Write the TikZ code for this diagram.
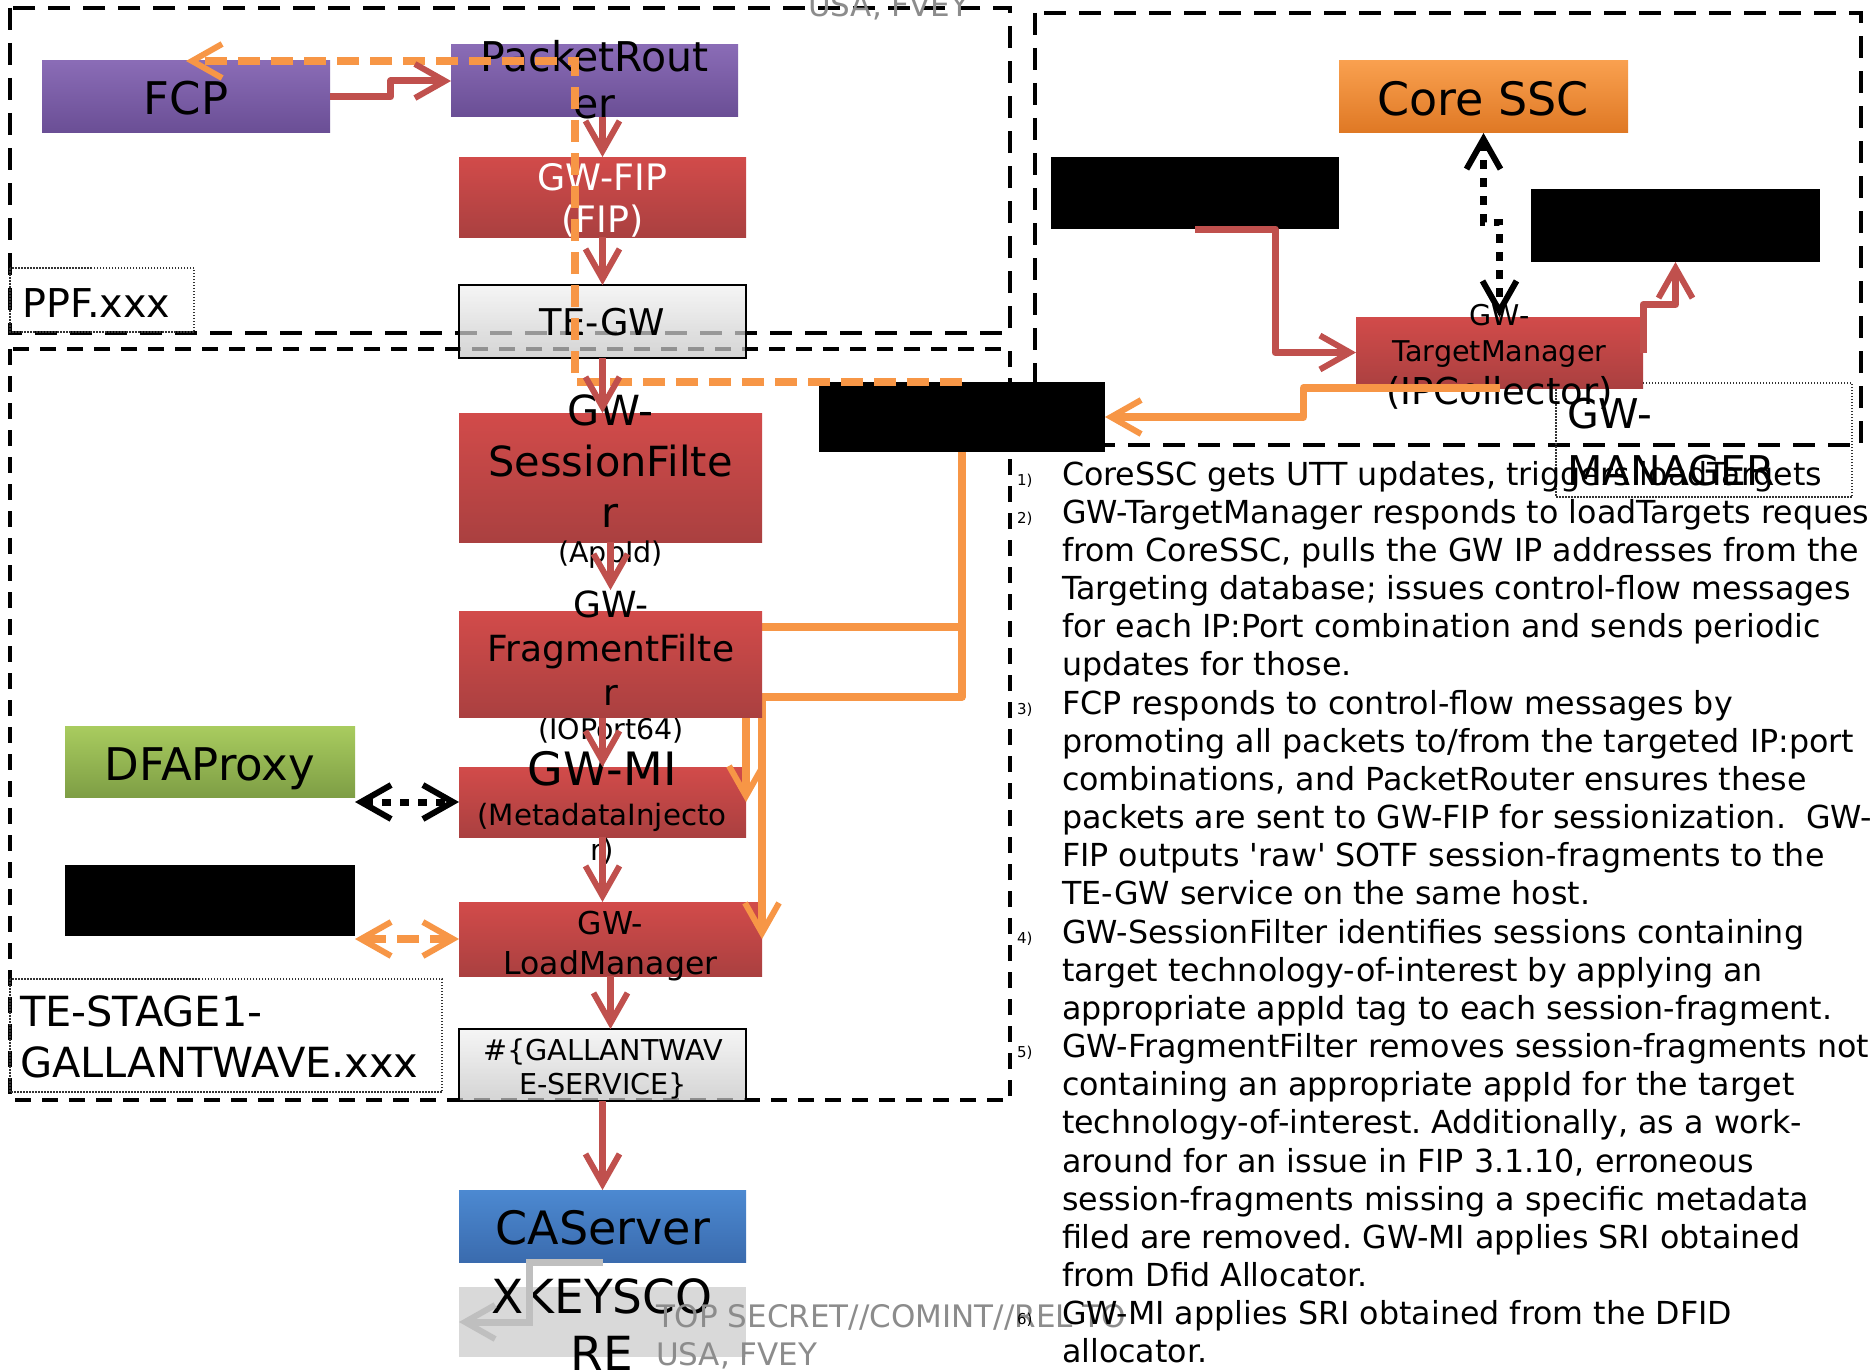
\documentclass[tikz,border=0pt]{standalone}
\usepackage{fontspec}
\setmainfont{DejaVu Sans}[Ligatures=TeXOff]
\usetikzlibrary{arrows.meta,calc}
\definecolor{myred}{HTML}{C0504D}
\definecolor{myorange}{HTML}{F79646}
\definecolor{arrgray}{HTML}{BFBFBF}
\definecolor{clsgray}{HTML}{8C8C8C}
\definecolor{purpT}{HTML}{8A6CB6}
\definecolor{purpB}{HTML}{6A4E95}
\definecolor{redT}{HTML}{D24B4A}
\definecolor{redB}{HTML}{AA4040}
\definecolor{oraT}{HTML}{F9A04F}
\definecolor{oraB}{HTML}{DF7824}
\definecolor{grnT}{HTML}{A9CC5F}
\definecolor{grnB}{HTML}{7E9E45}
\definecolor{bluT}{HTML}{4C89D1}
\definecolor{bluB}{HTML}{3A6BAE}
\definecolor{gryT}{HTML}{F2F2F2}
\definecolor{gryB}{HTML}{C4C4C4}
\pgfdeclarelayer{fg}
\pgfsetlayers{main,fg}
\newcommand\fz[1]{\fontsize{#1}{#1}\selectfont}
\newcommand\mlc[2]{\vtop{\baselineskip=#1pt\lineskiplimit=-1000pt\lineskip=0pt\halign{\hfil##\hfil\cr#2\crcr}}}
\newcommand\mll[2]{\vtop{\baselineskip=#1pt\lineskiplimit=-1000pt\lineskip=0pt\halign{##\hfil\cr#2\crcr}}}
\frenchspacing
\tikzset{
  >={Straight Barb[length=30pt,width=34pt,line width=6pt]},
  bx/.style={rectangle, inner sep=0pt, outer sep=0pt, minimum width=288pt, minimum height=72pt},
  purpbox/.style={bx, top color=purpT, bottom color=purpB},
  redbox/.style={bx, top color=redT, bottom color=redB},
  orabox/.style={bx, top color=oraT, bottom color=oraB},
  grnbox/.style={bx, top color=grnT, bottom color=grnB},
  blubox/.style={bx, top color=bluT, bottom color=bluB},
  grybox/.style={bx, top color=gryT, bottom color=gryB, fill opacity=0.72, draw=black, draw opacity=1, line width=2pt},
  ltbox/.style={bx, fill=black!15},
  blkbox/.style={bx, fill=black},
  tx/.style={inner sep=0pt, outer sep=0pt, text=black},
  frameA/.style={draw=black, line width=4.5pt, dash pattern=on 22pt off 13pt},
  frameB/.style={draw=black, line width=4.5pt, dash pattern=on 16pt off 11pt},
  lbl/.style={draw=black!80, line width=1.5pt, dash pattern=on 1.5pt off 1.5pt},
  rline/.style={draw=myred, line width=7pt, line join=round, ->},
  oline/.style={draw=myorange, line width=7.5pt, line join=round, ->},
  odash/.style={draw=myorange, line width=7.5pt, dash pattern=on 22pt off 11pt},
  bdot/.style={draw=black, line width=7pt, dash pattern=on 9pt off 9pt, <->},
  gline/.style={draw=arrgray, line width=7pt, ->},
  coltext/.style={tx, anchor=base west, font=\fz{31.7}},
  numtext/.style={tx, anchor=base west, font=\fz{15}},
}
\begin{document}
\begin{tikzpicture}[x=1pt,y=-1pt]
\useasboundingbox (0,0) rectangle (1873,1370);
\fill[white] (0,0) rectangle (1873,1370);

% dashed frames
\draw[frameA] (10,8) rectangle (1010,333);
\draw[frameB] (10,349) rectangle (1010,1100);
\draw[frameA] (1035,13) rectangle (1861,445);

% dotted label boxes
\draw[lbl] (10,268) rectangle (194,332);
\draw[lbl] (10,979) rectangle (442,1092);
\draw[lbl] (1556,383) rectangle (1852,497);
\node[tx, anchor=base west, font=\fz{39.7}] (ppfT) at (23,317) {PPF.xxx};
\node[tx, anchor=base west, font=\fz{41.5}] (tesT) at (20,1026) {\mll{51}{TE-STAGE1-\cr GALLANTWAVE.xxx}};
\node[tx, anchor=base west, font=\fz{41}] (gwmT) at (1567,428) {\mll{57}{GW-\cr MANAGER}};

% boxes
\node[purpbox] (fcp) at (186,97) {};
\node[purpbox, minimum width=287pt] (pr) at (594.5,81) {};
\node[redbox, minimum width=287pt, minimum height=80pt] (fip) at (602.5,197) {};
\node[grybox, minimum width=287pt, minimum height=73pt] (tegw) at (602.5,321.5) {};
\node[redbox, minimum width=303pt, minimum height=129pt] (sf) at (610.5,477.5) {};
\node[redbox, minimum width=287pt, minimum height=70pt] (mi) at (602.5,802) {};
\node[grnbox, minimum width=290pt, minimum height=71pt] (dfa) at (210,761.5) {};
\node[blkbox, minimum width=290pt, minimum height=71pt] (blk1) at (210,900.5) {};
\node[redbox, minimum width=303pt, minimum height=74pt] (lm) at (610.5,939) {};
\node[grybox, minimum width=287pt] (gws) at (602.5,1065) {};
\node[blubox, minimum width=287pt] (cas) at (602.5,1226) {};
\node[ltbox, minimum width=287pt, minimum height=70pt] (xk) at (602.5,1322) {};
\node[orabox, minimum width=289pt] (core) at (1483.5,97) {};
\node[blkbox] (blkA) at (1195,193) {};
\node[blkbox, minimum width=289pt, minimum height=73pt] (blkB) at (1675.5,225.5) {};
\node[redbox, minimum width=287pt, minimum height=71pt] (tm) at (1499.5,352.5) {};
\node[blkbox, minimum width=286pt, minimum height=70pt] (blkC) at (962,417) {};

\begin{pgfonlayer}{fg}
\node[redbox, minimum width=303pt, minimum height=106pt] (ff) at (610.5,664) {};
\node[tx, anchor=base, font=\fz{36}] (ffT) at (611,617) {\mlc{44}{GW-\cr FragmentFilte\cr r}};
\end{pgfonlayer}

% box texts
\node[tx, anchor=base, font=\fz{45}] (fcpT) at (186,115) {FCP};
\node[tx, anchor=base, font=\fz{41}] (prT) at (594.5,72) {\mlc{47}{PacketRout\cr er}};
\node[tx, anchor=base, font=\fz{36.4}, text=white] (fipT) at (602.5,190) {\mlc{42}{GW-FIP\cr (FIP)}};
\node[tx, anchor=base, font=\fz{36.8}] (tegwT) at (602.5,335) {TE-GW};
\node[tx, anchor=base, font=\fz{41.5}] (sfT) at (610.5,425) {\mlc{51}{GW-\cr SessionFilte\cr r}};
\node[tx, anchor=base, font=\fz{28.5}] (sfT2) at (610.5,562) {(AppId)};
\node[tx, anchor=base, font=\fz{28.5}] (ffT2) at (611,739) {(IOPort64)};
\node[tx, anchor=base, font=\fz{46}] (miT) at (602,785) {GW-MI};
\node[tx, anchor=base, font=\fz{29.3}] (miT2) at (602,825) {\mlc{35}{(MetadataInjecto\cr r)}};
\node[tx, anchor=base, font=\fz{45}] (dfaT) at (210,780) {DFAProxy};
\node[tx, anchor=base, font=\fz{31.5}] (lmT) at (610.5,934) {\mlc{40}{GW-\cr LoadManager}};
\node[tx, anchor=base, font=\fz{28.7}] (gwsT) at (603,1060) {\mlc{34}{\#\{GALLANTWAV\cr E-SERVICE\}}};
\node[tx, anchor=base, font=\fz{46}] (casT) at (603,1244) {CAServer};
\node[tx, anchor=base, font=\fz{47}] (xkT) at (602,1313) {\mlc{57}{XKEYSCO\cr RE}};
\node[tx, anchor=base, font=\fz{46}] (coreT) at (1483,116) {Core SSC};
\node[tx, anchor=base, font=\fz{28.6}] (tmT) at (1499.5,325) {\mlc{36}{GW-\cr TargetManager}};
\node[tx, anchor=base, font=\fz{37}] (tmT2) at (1499.5,404) {(IPCollector)};

% connectors
\draw[odash, ->] (blkC.north) -- ++(-387,0) |- (fcp.north);
\draw[rline] (fcp.east) -| ($(fcp.east)!.5!(pr.west)$) |- (pr.west);
\draw[rline] (fip.north |- pr.south) -- (fip.north);
\draw[rline] (fip.south) -- (tegw.north);
\draw[rline] (tegw.south) -- (tegw.south |- sf.north);
\draw[rline] (sf.south) -- ([yshift=21pt]ff.north);
\draw[rline] (mi.north |- ff.south) -- (mi.north);
\draw[rline] (mi.south) -- (mi.south |- lm.north);
\draw[rline] (lm.south) -- (lm.south |- gws.north);
\draw[rline] (gws.south) -- (cas.north);
\draw[rline] (blkA.south) -- ++(80,0) |- (tm.west);
\draw[rline] (tm.east) -- ++(0,-48) -| (blkB.south);
\draw[oline] (blkC.south) |- ([yshift=-16pt]ff.north east) -| (mi.east);
\draw[oline] (blkC.south) |- ([yshift=20pt]ff.south east) -- (lm.east);
\draw[oline] (tm.south) -- ++(-196,0) |- (blkC.east);
\draw[odash, <->] (blk1.east |- lm.west) -- (lm.west);
\draw[bdot] (dfa.east |- mi.west) -- (mi.west);
\draw[bdot] (core.south) -- ++(0,89) -| (tm.north);
\draw[gline] (cas.south) -- ++(-73,0) |- (xk.west);

% classification
\node[tx, anchor=base west, font=\fz{31}, text=clsgray] (clsTop) at (808,17) {USA, FVEY};
\node[tx, anchor=base west, font=\fz{31}, text=clsgray] (clsBot) at (656,1327) {\mll{38}{TOP SECRET//COMINT//REL TO\cr USA, FVEY}};

% text column
\node[numtext] (n1) at (1017,{485+38.17*0}) {1)};
\node[numtext] (n2) at (1017,{485+38.17*1}) {2)};
\node[numtext] (n3) at (1017,{485+38.17*6}) {3)};
\node[numtext] (n4) at (1017,{485+38.17*12}) {4)};
\node[numtext] (n5) at (1017,{485+38.17*15}) {5)};
\node[numtext] (n6) at (1017,{485+38.17*22}) {6)};
\node[coltext] (l0) at (1062,{485+38.17*0}) {CoreSSC gets UTT updates, triggers loadTargets};
\node[coltext] (l1) at (1062,{485+38.17*1}) {GW-TargetManager responds to loadTargets reques};
\node[coltext] (l2) at (1062,{485+38.17*2}) {from CoreSSC, pulls the GW IP addresses from the};
\node[coltext] (l3) at (1062,{485+38.17*3}) {Targeting database; issues control-flow messages};
\node[coltext] (l4) at (1062,{485+38.17*4}) {for each IP:Port combination and sends periodic};
\node[coltext] (l5) at (1062,{485+38.17*5}) {updates for those.};
\node[coltext] (l6) at (1062,{485+38.17*6}) {FCP responds to control-flow messages by};
\node[coltext] (l7) at (1062,{485+38.17*7}) {promoting all packets to/from the targeted IP:port};
\node[coltext] (l8) at (1062,{485+38.17*8}) {combinations, and PacketRouter ensures these};
\node[coltext] (l9) at (1062,{485+38.17*9}) {packets are sent to GW-FIP for sessionization.\ \ GW-};
\node[coltext] (l10) at (1062,{485+38.17*10}) {FIP outputs 'raw' SOTF session-fragments to the};
\node[coltext] (l11) at (1062,{485+38.17*11}) {TE-GW service on the same host.};
\node[coltext] (l12) at (1062,{485+38.17*12}) {GW-SessionFilter identifies sessions containing};
\node[coltext] (l13) at (1062,{485+38.17*13}) {target technology-of-interest by applying an};
\node[coltext] (l14) at (1062,{485+38.17*14}) {appropriate appId tag to each session-fragment.};
\node[coltext] (l15) at (1062,{485+38.17*15}) {GW-FragmentFilter removes session-fragments not};
\node[coltext] (l16) at (1062,{485+38.17*16}) {containing an appropriate appId for the target};
\node[coltext] (l17) at (1062,{485+38.17*17}) {technology-of-interest. Additionally, as a work-};
\node[coltext] (l18) at (1062,{485+38.17*18}) {around for an issue in FIP 3.1.10, erroneous};
\node[coltext] (l19) at (1062,{485+38.17*19}) {session-fragments missing a specific metadata};
\node[coltext] (l20) at (1062,{485+38.17*20}) {filed are removed. GW-MI applies SRI obtained};
\node[coltext] (l21) at (1062,{485+38.17*21}) {from Dfid Allocator.};
\node[coltext] (l22) at (1062,{485+38.17*22}) {GW-MI applies SRI obtained from the DFID};
\node[coltext] (l23) at (1062,{485+38.17*23}) {allocator.};
\end{tikzpicture}
\end{document}
